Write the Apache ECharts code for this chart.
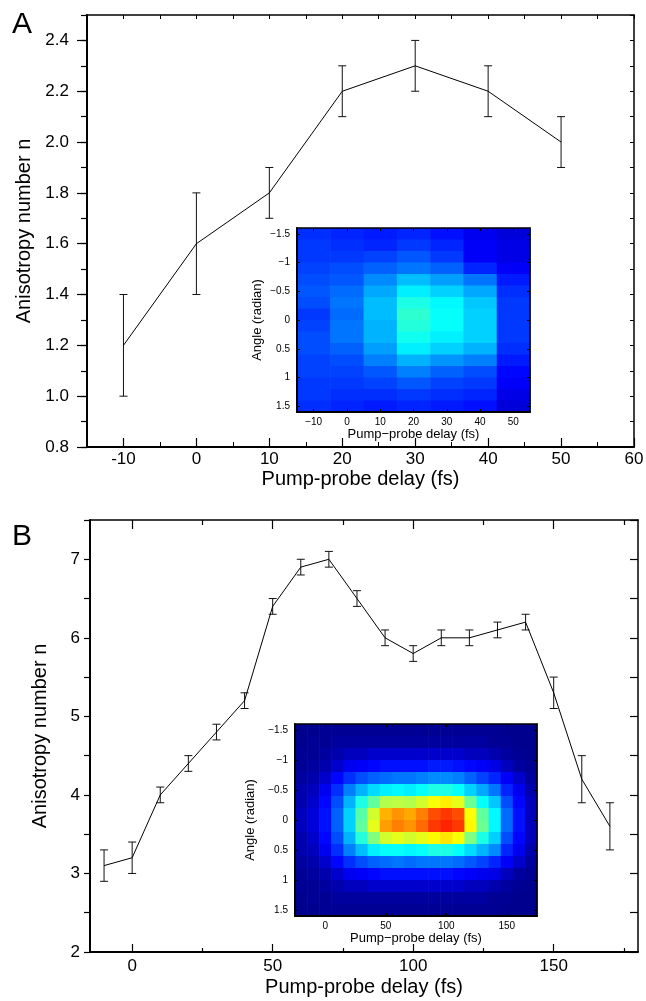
<!DOCTYPE html>
<html><head><meta charset="utf-8">
<script src="https://cdn.jsdelivr.net/npm/echarts@6/dist/echarts.min.js"></script>
<style>html,body{margin:0;padding:0;background:#fff}#c{width:646px;height:1001px}</style>
</head><body><div id="c"></div>
<script>
// ---------- Panel A: main curve ----------
const delayA = [-10, 0, 10, 20, 30, 40, 50];
const anisoA = [1.2, 1.6, 1.8, 2.2, 2.3, 2.2, 2.0];
const errA   = [0.2, 0.2, 0.1, 0.1, 0.1, 0.1, 0.1];
// ---------- Panel B: main curve ----------
const delayB = [-10, 0, 10, 20, 30, 40, 50, 60, 70, 80, 90, 100, 110, 120, 130, 140, 150, 160, 170];
const anisoB = [3.1, 3.2, 4.0, 4.4, 4.8, 5.2, 6.4, 6.9, 7.0, 6.5, 6.0, 5.8, 6.0, 6.0, 6.1, 6.2, 5.3, 4.2, 3.6];
const errB   = [0.2, 0.2, 0.1, 0.1, 0.1, 0.1, 0.1, 0.1, 0.1, 0.1, 0.1, 0.1, 0.1, 0.1, 0.1, 0.1, 0.2, 0.3, 0.3];

// ---------- tick labels ----------
const xTicksA = ['-15','-10','-5','0','5','10','15','20','25','30','35','40','45','50','55','60'];
const yTicksA = ['0.8','0.9','1.0','1.1','1.2','1.3','1.4','1.5','1.6','1.7','1.8','1.9','2.0','2.1','2.2','2.3','2.4','2.5'];
const xTicksB = ['-15','-10','-5','0','5','10','15','20','25','30','35','40','45','50','55','60','65','70','75','80',
                 '85','90','95','100','105','110','115','120','125','130','135','140','145','150','155','160','165','170','175','180'];
const insetXTicksA = ['-15','-10','-5','0','5','10','15','20','25','30','35','40','45','50','55'];
const insetXTicksB = ['-25','0','25','50','75','100','125','150','175'];
const insetYTicks = ['-1.6','-1.5','-1.4','-1.3','-1.2','-1.1','-1','-0.9','-0.8','-0.7','-0.6','-0.5','-0.4','-0.3','-0.2','-0.1','0',
                     '0.1','0.2','0.3','0.4','0.5','0.6','0.7','0.8','0.9','1','1.1','1.2','1.3','1.4','1.5','1.6'];

// ---------- inset images (intensity 0..1, jet colour map) ----------
const angleRows = [-1.5,-1.3,-1.1,-0.9,-0.7,-0.5,-0.3,-0.1,0.1,0.3,0.5,0.7,0.9,1.1,1.3,1.5];
const insetDelayA = [-10, 0, 10, 20, 30, 40, 50];
const insetA = [
  [0.17,0.18,0.18,0.19,0.20,0.21,0.20,0.18,0.19,0.20,0.20,0.19,0.19,0.18,0.18,0.17],
  [0.16,0.17,0.18,0.20,0.21,0.23,0.24,0.23,0.24,0.24,0.22,0.20,0.19,0.18,0.17,0.16],
  [0.15,0.16,0.19,0.22,0.26,0.29,0.31,0.31,0.30,0.30,0.28,0.25,0.21,0.19,0.17,0.15],
  [0.16,0.18,0.21,0.24,0.31,0.36,0.40,0.42,0.41,0.39,0.36,0.30,0.25,0.21,0.18,0.16],
  [0.14,0.16,0.18,0.22,0.28,0.33,0.37,0.38,0.38,0.36,0.33,0.27,0.22,0.19,0.17,0.15],
  [0.11,0.12,0.12,0.16,0.24,0.29,0.32,0.33,0.33,0.33,0.30,0.25,0.20,0.18,0.16,0.14],
  [0.09,0.10,0.10,0.12,0.15,0.17,0.18,0.18,0.18,0.18,0.17,0.15,0.13,0.12,0.10,0.09]
];
const insetDelayB = [-20,-10,0,10,20,30,40,50,60,70,80,90,100,110,120,130,140,150,160,170];
const insetB = [
  [0.015,0.015,0.02,0.02,0.03,0.045,0.045,0.06,0.06,0.045,0.045,0.03,0.02,0.02,0.015,0.015],
  [0.015,0.02,0.02,0.03,0.045,0.06,0.075,0.09,0.09,0.075,0.06,0.045,0.03,0.02,0.02,0.015],
  [0.02,0.02,0.03,0.045,0.075,0.11,0.13,0.14,0.14,0.13,0.11,0.075,0.045,0.03,0.02,0.02],
  [0.02,0.03,0.045,0.075,0.13,0.17,0.20,0.22,0.22,0.20,0.17,0.13,0.075,0.045,0.03,0.02],
  [0.02,0.03,0.06,0.11,0.17,0.25,0.30,0.33,0.33,0.30,0.25,0.17,0.11,0.06,0.03,0.02],
  [0.02,0.03,0.06,0.12,0.20,0.30,0.40,0.46,0.47,0.41,0.31,0.20,0.12,0.06,0.03,0.02],
  [0.02,0.03,0.075,0.13,0.22,0.34,0.47,0.58,0.60,0.50,0.36,0.22,0.13,0.075,0.03,0.02],
  [0.02,0.03,0.075,0.14,0.23,0.36,0.55,0.70,0.72,0.58,0.38,0.23,0.14,0.075,0.03,0.02],
  [0.02,0.03,0.075,0.14,0.24,0.37,0.56,0.73,0.75,0.60,0.38,0.24,0.14,0.075,0.03,0.02],
  [0.02,0.03,0.075,0.14,0.24,0.36,0.55,0.71,0.73,0.58,0.37,0.23,0.14,0.075,0.03,0.02],
  [0.02,0.03,0.075,0.14,0.25,0.38,0.58,0.75,0.77,0.60,0.38,0.24,0.14,0.075,0.03,0.02],
  [0.02,0.03,0.075,0.15,0.26,0.40,0.62,0.80,0.82,0.63,0.40,0.24,0.14,0.075,0.03,0.02],
  [0.02,0.03,0.075,0.15,0.26,0.40,0.64,0.82,0.84,0.65,0.40,0.24,0.14,0.075,0.03,0.02],
  [0.02,0.03,0.075,0.14,0.25,0.38,0.60,0.80,0.82,0.62,0.38,0.23,0.13,0.075,0.03,0.02],
  [0.02,0.03,0.06,0.13,0.22,0.33,0.48,0.62,0.63,0.50,0.34,0.21,0.12,0.06,0.03,0.02],
  [0.02,0.03,0.06,0.12,0.19,0.29,0.38,0.47,0.48,0.40,0.30,0.19,0.11,0.06,0.03,0.02],
  [0.02,0.02,0.045,0.10,0.16,0.24,0.32,0.37,0.37,0.33,0.26,0.16,0.10,0.045,0.02,0.02],
  [0.015,0.02,0.03,0.06,0.12,0.16,0.20,0.23,0.23,0.20,0.16,0.12,0.06,0.03,0.02,0.015],
  [0.015,0.015,0.02,0.03,0.075,0.11,0.13,0.14,0.14,0.13,0.11,0.075,0.03,0.02,0.015,0.015],
  [0.015,0.015,0.015,0.02,0.03,0.045,0.06,0.06,0.06,0.06,0.045,0.03,0.02,0.015,0.015,0.015]
];

// ---------- helpers ----------
const FONT = '"Liberation Sans", Arial, Helvetica, sans-serif';
const K = '#000';
const ls = w => ({ color: K, width: w });
const num = v => parseFloat(v);
const minus = v => String(num(v)).replace('-', '\u2212');

function jet(v) {
  const c = t => Math.max(0, Math.min(1, t));
  const r = c(1.5 - Math.abs(4 * v - 3)), g = c(1.5 - Math.abs(4 * v - 2)), b = c(1.5 - Math.abs(4 * v - 1));
  return 'rgb(' + Math.round(r * 255) + ',' + Math.round(g * 255) + ',' + Math.round(b * 255) + ')';
}

function errSeries(xi, yi, xs, ys, es) {
  return {
    type: 'custom', xAxisIndex: xi, yAxisIndex: yi, z: 3, silent: true,
    encode: { x: 0, y: [1, 2] },
    data: xs.map((x, i) => [x, ys[i] - es[i], ys[i] + es[i]]),
    renderItem: (p, api) => {
      const lo = api.coord([api.value(0), api.value(1)]);
      const hi = api.coord([api.value(0), api.value(2)]);
      const w = 4, st = { stroke: '#111', lineWidth: 1 };
      return { type: 'group', children: [
        { type: 'line', shape: { x1: lo[0], y1: lo[1], x2: hi[0], y2: hi[1] }, style: st },
        { type: 'line', shape: { x1: lo[0] - w, y1: lo[1], x2: lo[0] + w, y2: lo[1] }, style: st },
        { type: 'line', shape: { x1: hi[0] - w, y1: hi[1], x2: hi[0] + w, y2: hi[1] }, style: st }
      ]};
    }
  };
}

function heatSeries(xi, yi, cols, grid, halfW) {
  const data = [];
  cols.forEach((c, i) => angleRows.forEach((r, j) => data.push([c, r, grid[i][j]])));
  return {
    type: 'custom', xAxisIndex: xi, yAxisIndex: yi, z: 4, silent: true,
    encode: { x: 0, y: 1 }, data,
    renderItem: (p, api) => {
      const a = api.coord([api.value(0) - halfW, api.value(1) - 0.1]);
      const b = api.coord([api.value(0) + halfW, api.value(1) + 0.1]);
      return { type: 'rect',
        shape: { x: Math.min(a[0], b[0]), y: Math.min(a[1], b[1]), width: Math.abs(b[0] - a[0]) + 0.6, height: Math.abs(b[1] - a[1]) + 0.6 },
        style: { fill: jet(api.value(2)) } };
    }
  };
}

const noLab = { show: false };
const noSplit = { show: false };
const hideLine = { show: false, onZero: false };
const shown = w => ({ show: true, onZero: false, lineStyle: ls(w) });

function catAxis(o) {
  return Object.assign({ type: 'category', boundaryGap: false, splitLine: noSplit, silent: true }, o);
}
function valAxis(o) {
  return Object.assign({ type: 'value', splitLine: noSplit, silent: true }, o);
}
const lab = (o) => Object.assign({ color: K, fontFamily: FONT }, o);
const nts = (s) => ({ fontSize: s, color: K, fontFamily: FONT });

const even10 = (i, v) => Math.round(num(v)) % 10 === 0;
const half = (i, v) => Math.round(num(v) * 10) % 5 === 0;
const m50 = (i, v) => num(v) % 50 === 0;
const m25 = (i, v) => num(v) % 25 === 0 && num(v) % 50 !== 0;

const xAxis = [
  // Panel A main (grid 0)
  valAxis({ gridIndex: 0, position: 'bottom', min: -15, max: 60, interval: 5,
    axisLine: shown(2), axisTick: { inside: true, length: 5, lineStyle: ls(1) }, axisLabel: noLab }),
  catAxis({ gridIndex: 0, position: 'bottom', data: xTicksA, axisLine: hideLine,
    axisTick: { inside: true, length: 9, interval: even10, lineStyle: ls(1.2) },
    axisLabel: lab({ interval: even10, fontSize: 17, margin: 4 }),
    name: 'Pump-probe delay (fs)', nameLocation: 'middle', nameGap: 22, nameTextStyle: nts(20) }),
  valAxis({ gridIndex: 0, position: 'top', min: -15, max: 60, interval: 5,
    axisLine: shown(1.5), axisTick: { inside: true, length: 4, lineStyle: ls(1) }, axisLabel: noLab }),
  // Panel B main (grid 2)
  valAxis({ gridIndex: 2, position: 'bottom', min: -15, max: 180,
    axisLine: shown(2), axisTick: { show: false }, axisLabel: noLab }),
  catAxis({ gridIndex: 2, position: 'bottom', data: xTicksB, axisLine: hideLine,
    axisTick: { inside: true, length: 8, interval: m50, lineStyle: ls(1.2) },
    axisLabel: lab({ interval: m50, fontSize: 17, margin: 6 }),
    name: 'Pump-probe delay (fs)', nameLocation: 'middle', nameGap: 25, nameTextStyle: nts(20) }),
  catAxis({ gridIndex: 2, position: 'bottom', data: xTicksB, axisLine: hideLine,
    axisTick: { inside: true, length: 4, interval: m25, lineStyle: ls(1.2) }, axisLabel: noLab }),
  catAxis({ gridIndex: 2, position: 'top', data: xTicksB, axisLine: shown(1.5),
    axisTick: { inside: true, length: 9, interval: m50, lineStyle: ls(1.2) }, axisLabel: noLab }),
  catAxis({ gridIndex: 2, position: 'top', data: xTicksB, axisLine: hideLine,
    axisTick: { inside: true, length: 5, interval: m25, lineStyle: ls(1.2) }, axisLabel: noLab }),
  // Inset A (grid 1)
  valAxis({ gridIndex: 1, position: 'bottom', min: -15, max: 55, z: 10,
    axisLine: shown(2), axisTick: { show: false }, axisLabel: noLab }),
  catAxis({ gridIndex: 1, position: 'bottom', data: insetXTicksA, axisLine: hideLine, z: 10,
    axisTick: { inside: true, length: 3, interval: even10, lineStyle: ls(1) },
    axisLabel: lab({ interval: even10, fontSize: 10, margin: 5, formatter: minus }),
    name: 'Pump\u2212probe delay (fs)', nameLocation: 'middle', nameGap: 13, nameTextStyle: nts(13) }),
  catAxis({ gridIndex: 1, position: 'top', data: insetXTicksA, axisLine: shown(1.5), z: 10,
    axisTick: { inside: true, length: 3, interval: even10, lineStyle: ls(1) }, axisLabel: noLab }),
  // Inset B (grid 3)
  valAxis({ gridIndex: 3, position: 'bottom', min: -25, max: 175, z: 10,
    axisLine: shown(2), axisTick: { show: false }, axisLabel: noLab }),
  catAxis({ gridIndex: 3, position: 'bottom', data: insetXTicksB, axisLine: hideLine, z: 10,
    axisTick: { inside: true, length: 3, interval: m50, lineStyle: ls(1) },
    axisLabel: lab({ interval: m50, fontSize: 10, margin: 5, formatter: minus }),
    name: 'Pump\u2212probe delay (fs)', nameLocation: 'middle', nameGap: 14, nameTextStyle: nts(13) }),
  catAxis({ gridIndex: 3, position: 'top', data: insetXTicksB, axisLine: shown(1.5), z: 10,
    axisTick: { inside: true, length: 3, interval: m50, lineStyle: ls(1) }, axisLabel: noLab })
];

const yAxis = [
  // Panel A main (grid 0)
  valAxis({ gridIndex: 0, position: 'left', min: 0.8, max: 2.5, interval: 0.1,
    axisLine: shown(2), axisTick: { inside: false, length: 6, lineStyle: ls(1.2) }, axisLabel: noLab }),
  catAxis({ gridIndex: 0, position: 'left', data: yTicksA, axisLine: hideLine,
    axisTick: { inside: false, length: 10, interval: (i) => i % 2 === 0 && i < 17, lineStyle: ls(1.2) },
    axisLabel: lab({ interval: (i) => i % 2 === 0 && i < 17, fontSize: 17, margin: 18 }),
    name: 'Anisotropy number n', nameLocation: 'middle', nameGap: 51, nameTextStyle: nts(20) }),
  valAxis({ gridIndex: 0, position: 'right', min: 0.8, max: 2.5, interval: 0.1,
    axisLine: shown(1.5), axisTick: { inside: true, length: 4, lineStyle: ls(1) }, axisLabel: noLab }),
  // Panel B main (grid 2)
  valAxis({ gridIndex: 2, position: 'left', min: 2, max: 7.5, interval: 0.5,
    axisLine: shown(2), axisTick: { inside: false, length: 6, lineStyle: ls(1.2) },
    axisLabel: lab({ fontSize: 17, margin: 10, formatter: v => (Number.isInteger(v) ? String(v) : '') }),
    name: 'Anisotropy number n', nameLocation: 'middle', nameGap: 40, nameTextStyle: nts(20) }),
  valAxis({ gridIndex: 2, position: 'right', min: 2, max: 7.5, interval: 0.5,
    axisLine: shown(1.5), axisTick: { inside: true, length: 8, lineStyle: ls(1.2) }, axisLabel: noLab }),
  // Inset A (grid 1)
  valAxis({ gridIndex: 1, position: 'left', min: -1.6, max: 1.6, inverse: true, z: 10,
    axisLine: shown(2), axisTick: { show: false }, axisLabel: noLab }),
  catAxis({ gridIndex: 1, position: 'left', data: insetYTicks, inverse: true, axisLine: hideLine, z: 10,
    axisTick: { inside: true, length: 3, interval: half, lineStyle: ls(1) },
    axisLabel: lab({ interval: half, fontSize: 10, margin: 7, formatter: minus }),
    name: 'Angle (radian)', nameLocation: 'middle', nameGap: 33, nameTextStyle: nts(13) }),
  catAxis({ gridIndex: 1, position: 'right', data: insetYTicks, inverse: true, axisLine: shown(1.5), z: 10,
    axisTick: { inside: true, length: 3, interval: half, lineStyle: ls(1) }, axisLabel: noLab }),
  // Inset B (grid 3)
  valAxis({ gridIndex: 3, position: 'left', min: -1.6, max: 1.6, inverse: true, z: 10,
    axisLine: shown(2), axisTick: { show: false }, axisLabel: noLab }),
  catAxis({ gridIndex: 3, position: 'left', data: insetYTicks, inverse: true, axisLine: hideLine, z: 10,
    axisTick: { inside: true, length: 3, interval: half, lineStyle: ls(1) },
    axisLabel: lab({ interval: half, fontSize: 10, margin: 7, formatter: minus }),
    name: 'Angle (radian)', nameLocation: 'middle', nameGap: 38, nameTextStyle: nts(13) }),
  catAxis({ gridIndex: 3, position: 'right', data: insetYTicks, inverse: true, axisLine: shown(1.5), z: 10,
    axisTick: { inside: true, length: 3, interval: half, lineStyle: ls(1) }, axisLabel: noLab })
];

const gridBase = { containLabel: false, outerBoundsMode: 'none', show: false };
const option = {
  animation: false,
  backgroundColor: '#fff',
  textStyle: { fontFamily: FONT },
  grid: [
    Object.assign({ left: 87, top: 15, width: 547, height: 432 }, gridBase),
    Object.assign({ left: 297, top: 228, width: 233, height: 184 }, gridBase),
    Object.assign({ left: 90, top: 520, width: 548, height: 432 }, gridBase),
    Object.assign({ left: 295, top: 724, width: 242, height: 192 }, gridBase)
  ],
  xAxis, yAxis,
  graphic: [
    { type: 'text', left: 12, top: 10, style: { text: 'A', font: '30px ' + FONT, fill: K } },
    { type: 'text', left: 12, top: 522, style: { text: 'B', font: '30px ' + FONT, fill: K } }
  ],
  series: [
    { type: 'line', xAxisIndex: 0, yAxisIndex: 0, data: delayA.map((x, i) => [x, anisoA[i]]),
      symbol: 'none', lineStyle: { color: K, width: 1 }, z: 3, silent: true },
    errSeries(0, 0, delayA, anisoA, errA),
    heatSeries(8, 5, insetDelayA, insetA, 5),
    { type: 'line', xAxisIndex: 3, yAxisIndex: 3, data: delayB.map((x, i) => [x, anisoB[i]]),
      symbol: 'none', lineStyle: { color: K, width: 1 }, z: 3, silent: true },
    errSeries(3, 3, delayB, anisoB, errB),
    heatSeries(11, 8, insetDelayB, insetB, 5)
  ]
};
const chart = echarts.init(document.getElementById('c'), null, { renderer: 'canvas' });
chart.setOption(option);
</script>
</body></html>
